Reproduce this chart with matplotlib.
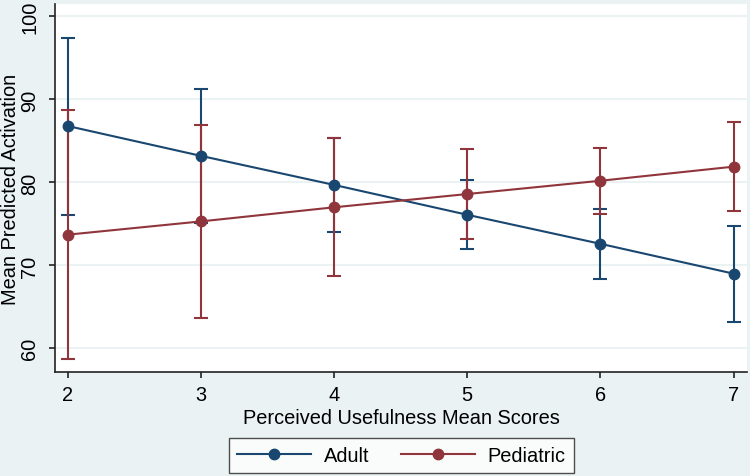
import numpy as np
import matplotlib.pyplot as plt

plt.rcParams['font.family'] = ['Liberation Sans', 'DejaVu Sans']

# data
scores = [2, 3, 4, 5, 6, 7]
adult_mean = [86.8, 83.2, 79.7, 76.1, 72.6, 69.0]
adult_lo = [76.1, 75.1, 74.0, 72.0, 68.4, 63.2]
adult_hi = [97.4, 91.3, 85.4, 80.3, 76.8, 74.8]
ped_mean = [73.7, 75.3, 77.0, 78.6, 80.2, 81.9]
ped_lo = [58.7, 63.7, 68.7, 73.2, 76.2, 76.5]
ped_hi = [88.7, 86.9, 85.3, 84.0, 84.2, 87.3]

navy = '#1A476F'
maroon = '#90353B'
bg = '#EAF2F3'
fs = 14.4

fig = plt.figure(figsize=(7.5, 4.77), dpi=100, facecolor=bg)
ax = fig.add_axes([0.0733, 0.218, 0.9227, 0.7715])
ax.set_facecolor('white')

for m, lo, hi, c, lab in [(adult_mean, adult_lo, adult_hi, navy, 'Adult'),
                          (ped_mean, ped_lo, ped_hi, maroon, 'Pediatric')]:
    m = np.array(m)
    err = [m - np.array(lo), np.array(hi) - m]
    ax.errorbar(scores, m, yerr=err, fmt='none', ecolor=c, elinewidth=1.5,
                capsize=5, capthick=1.5, zorder=3)
    ax.plot(scores, m, color=c, lw=1.5, marker='o', ms=7.5, label=lab, zorder=4)

ax.set_xlim(1.905, 7.1)
ax.set_ylim(57.15, 101.5)
ax.set_xticks(scores)
ax.set_yticks([60, 70, 80, 90, 100])
ax.yaxis.grid(True, color=bg, lw=1.5)
ax.set_axisbelow(True)
for s in ['top', 'right']:
    ax.spines[s].set_visible(False)
for s in ['left', 'bottom']:
    ax.spines[s].set_color('#222222')
    ax.spines[s].set_linewidth(1.2)
ax.tick_params(direction='out', length=4.5, width=1.2, color='#222222', labelsize=fs)
ax.tick_params(axis='y', pad=7)
ax.tick_params(axis='x', pad=5)
for t in ax.get_yticklabels():
    t.set_rotation(90)
    t.set_va('center')
ax.set_xlabel('Perceived Usefulness Mean Scores', fontsize=fs, labelpad=3)
ax.set_ylabel('Mean Predicted Activation', fontsize=fs)
ax.yaxis.set_label_coords(-0.05, 0.5)

leg = fig.legend(loc='center', bbox_to_anchor=(0.535, 0.043), ncol=2, fontsize=fs,
                 frameon=True, fancybox=False, edgecolor='#222222', handlelength=3.7,
                 columnspacing=1.55, handletextpad=0.65, borderpad=0.4)
leg.get_frame().set_linewidth(1.0)

fig.savefig('out.png', dpi=100, facecolor=bg)
